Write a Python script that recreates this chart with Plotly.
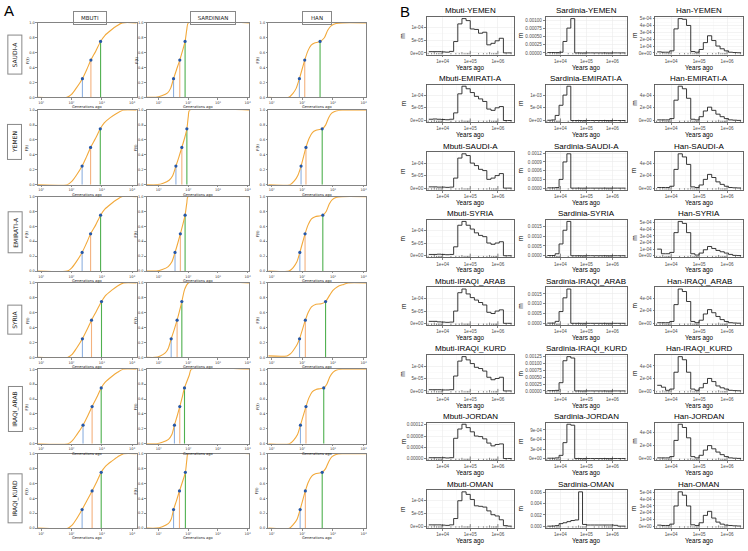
import plotly.graph_objects as go

W, H = 748, 551

# ---------------- Panel A data ----------------
A_ROWS = ["SAUDI-A", "YEMEN", "EMIRATI-A", "SYRIA", "IRAQI_ARAB", "IRAQI_KURD"]
A_COLS = ["MBUTI", "SARDINIAN", "HAN"]
A_XTICK_EXP = [1, 2, 3, 4]
A_XTICK_TEXT = ["10¹", "10²", "10³", "10⁴"]
A_YTICKS = [0.0, 0.2, 0.4, 0.6, 0.8, 1.0]
A_YLABEL = "F(t)"
A_XLABEL = "Generations ago"

MBUTI_F = [0, 0, 0.04, 0.12, 0.25, 0.37, 0.5, 0.62, 0.75, 0.83, 0.9, 0.96, 1.0, 1.0]
MBUTI_LOGT = [
    [0.89, 1.85, 2.00, 2.15, 2.36, 2.50, 2.64, 2.80, 2.96, 3.10, 3.30, 3.50, 3.68, 4.15],
    [0.89, 1.86, 2.00, 2.15, 2.35, 2.49, 2.63, 2.79, 2.95, 3.08, 3.28, 3.50, 3.70, 4.15],
    [0.89, 1.86, 2.00, 2.15, 2.35, 2.49, 2.63, 2.80, 2.96, 3.10, 3.30, 3.50, 3.68, 4.15],
    [0.89, 1.87, 2.02, 2.16, 2.36, 2.51, 2.66, 2.82, 2.99, 3.12, 3.32, 3.52, 3.72, 4.15],
    [0.89, 1.88, 2.02, 2.17, 2.38, 2.53, 2.68, 2.83, 2.98, 3.12, 3.32, 3.52, 3.70, 4.15],
    [0.89, 1.88, 2.02, 2.16, 2.35, 2.51, 2.68, 2.83, 2.98, 3.12, 3.33, 3.53, 3.72, 4.15],
]
MBUTI_Q = [
    [2.36, 2.64, 2.96], [2.35, 2.63, 2.95], [2.35, 2.63, 2.96],
    [2.36, 2.66, 2.99], [2.38, 2.68, 2.98], [2.35, 2.68, 2.98],
]

SARD_F = [0, 0, 0.02, 0.06, 0.12, 0.25, 0.37, 0.5, 0.62, 0.75, 0.92, 1.0, 1.0]
SARD_LOGT = [
    [0.59, 0.90, 1.10, 1.30, 1.40, 1.50, 1.60, 1.71, 1.80, 1.89, 1.95, 2.00, 4.06],
    [0.59, 0.95, 1.15, 1.35, 1.47, 1.58, 1.68, 1.78, 1.87, 1.95, 2.00, 2.04, 4.06],
    [0.59, 0.92, 1.12, 1.32, 1.44, 1.55, 1.64, 1.73, 1.81, 1.89, 1.95, 1.99, 4.06],
    [0.59, 0.88, 1.05, 1.22, 1.32, 1.42, 1.52, 1.62, 1.70, 1.78, 1.88, 2.00, 4.06],
    [0.59, 0.92, 1.12, 1.33, 1.44, 1.53, 1.62, 1.71, 1.79, 1.87, 2.03, 2.10, 4.06],
    [0.59, 0.92, 1.12, 1.32, 1.42, 1.50, 1.60, 1.70, 1.80, 1.90, 1.95, 1.99, 4.06],
]
SARD_Q = [
    [1.50, 1.71, 1.89], [1.58, 1.78, 1.95], [1.55, 1.73, 1.89],
    [1.42, 1.62, 1.78], [1.53, 1.71, 1.87], [1.50, 1.70, 1.90],
]

HAN_F = [0, 0, 0.05, 0.12, 0.25, 0.5, 0.62, 0.70, 0.73, 0.74, 0.75, 0.8, 0.9, 0.96, 0.99, 1.0, 1.0]
HAN_F_SYRIA = [0.02, 0.02, 0.05, 0.12, 0.18, 0.25, 0.5, 0.61, 0.68, 0.715, 0.72, 0.75, 0.84, 0.9, 0.95, 0.98, 1.0, 1.0]
HAN_LOGT = [
    [0.89, 1.56, 1.69, 1.80, 1.905, 2.08, 2.18, 2.29, 2.40, 2.50, 2.58, 2.72, 2.83, 2.94, 3.10, 3.30, 4.08],
    [0.89, 1.60, 1.74, 1.85, 1.96, 2.12, 2.22, 2.33, 2.45, 2.56, 2.65, 2.76, 2.86, 2.96, 3.10, 3.30, 4.08],
    [0.89, 1.57, 1.71, 1.82, 1.92, 2.09, 2.19, 2.30, 2.42, 2.56, 2.67, 2.78, 2.88, 2.98, 3.12, 3.30, 4.08],
    [0.89, 1.50, 1.62, 1.75, 1.84, 1.91, 2.10, 2.20, 2.30, 2.45, 2.62, 2.76, 2.90, 3.00, 3.15, 3.35, 3.50, 4.08],
    [0.89, 1.58, 1.72, 1.84, 1.94, 2.12, 2.22, 2.33, 2.45, 2.58, 2.70, 2.80, 2.90, 3.00, 3.12, 3.30, 4.08],
    [0.89, 1.58, 1.71, 1.83, 1.93, 2.10, 2.20, 2.31, 2.43, 2.56, 2.65, 2.76, 2.87, 2.97, 3.10, 3.30, 4.08],
]
HAN_Q = [
    [1.905, 2.08, 2.58], [1.96, 2.12, 2.65], [1.92, 2.09, 2.67],
    [1.91, 2.10, 2.76], [1.94, 2.12, 2.70], [1.93, 2.10, 2.65],
]

# ---------------- Panel B data ----------------
B_ROWS = ["YEMEN", "EMIRATI-A", "SAUDI-A", "SYRIA", "IRAQI_ARAB", "IRAQI_KURD", "JORDAN", "OMAN"]
B_COLS = ["Mbuti", "Sardinia", "Han"]
B_EDGES_LOG10 = [3.50, 3.65, 3.80, 3.95, 4.10, 4.25, 4.40, 4.55, 4.70, 4.85, 5.00,
                 5.15, 5.30, 5.45, 5.60, 5.75, 5.90, 6.05, 6.20, 6.35, 6.50]
B_XTICKS = [1e4, 1e5, 1e6]
B_XTICKTEXT = ["1e+04", "1e+05", "1e+06"]

MBUTI_YEMEN = [0.05e-4, 0.05e-4, 0.05e-4, 0.04e-4, 0.03e-4, 0.06e-4, 0.45e-4, 1.15e-4, 1.36e-4, 1.28e-4,
               0.95e-4, 0.93e-4, 0.78e-4, 0.82e-4, 0.32e-4, 0.38e-4, 0.48e-4, 0.58e-4, 0, 0]
MBUTI_EMIRATI = [0.05e-4, 0.06e-4, 0.05e-4, 0.04e-4, 0.03e-4, 0.05e-4, 0.30e-4, 1.05e-4, 1.35e-4, 1.25e-4,
                 1.10e-4, 0.95e-4, 0.85e-4, 0.75e-4, 0.45e-4, 0.40e-4, 0.50e-4, 0.55e-4, 0, 0]
MBUTI_SAUDI = [0.05e-4, 0.05e-4, 0.04e-4, 0.04e-4, 0.03e-4, 0.04e-4, 0.40e-4, 1.20e-4, 1.37e-4, 1.30e-4,
               1.00e-4, 0.90e-4, 0.75e-4, 0.70e-4, 0.35e-4, 0.40e-4, 0.50e-4, 0.58e-4, 0, 0]
MBUTI_SYRIA = [0.05e-4, 0.05e-4, 0.06e-4, 0.05e-4, 0.04e-4, 0.05e-4, 0.35e-4, 1.20e-4, 1.35e-4, 1.20e-4,
               1.05e-4, 0.90e-4, 0.80e-4, 0.75e-4, 0.50e-4, 0.45e-4, 0.50e-4, 0.55e-4, 0, 0]
MBUTI_IRAQI_ARAB = [0.08e-4, 0.08e-4, 0.06e-4, 0.05e-4, 0.04e-4, 0.05e-4, 0.50e-4, 1.25e-4, 1.40e-4, 1.20e-4,
                    1.05e-4, 0.95e-4, 0.85e-4, 0.75e-4, 0.45e-4, 0.40e-4, 0.50e-4, 0.55e-4, 0, 0]
MBUTI_IRAQI_KURD = [0.05e-4, 0.05e-4, 0.05e-4, 0.04e-4, 0.04e-4, 0.05e-4, 0.60e-4, 1.20e-4, 1.38e-4, 1.25e-4,
                    1.10e-4, 0.95e-4, 0.90e-4, 0.80e-4, 0.55e-4, 0.45e-4, 0.50e-4, 0.55e-4, 0, 0]
MBUTI_JORDAN = [0.03e-4, 0.03e-4, 0.03e-4, 0.03e-4, 0.02e-4, 0.03e-4, 0.72e-4, 1.05e-4, 1.22e-4, 1.10e-4,
                0.95e-4, 0.80e-4, 0.78e-4, 0.70e-4, 0.55e-4, 0.45e-4, 0.50e-4, 0.52e-4, 0, 0]
MBUTI_OMAN = [0.05e-4, 0.05e-4, 0.05e-4, 0.04e-4, 0.03e-4, 0.05e-4, 0.30e-4, 1.00e-4, 1.35e-4, 1.25e-4,
              1.05e-4, 0.80e-4, 0.78e-4, 0.75e-4, 0.60e-4, 0.45e-4, 0.40e-4, 0.25e-4, 0.02e-4, 0]

SARD_YEMEN = [0.01e-3, 0.01e-3, 0.01e-3, 0.02e-3, 0.35e-3, 0.76e-3, 1.05e-3, 0, 0, 0,
              0, 0, 0, 0, 0, 0, 0, 0, 0, 0]
SARD_EMIRATI = [0.01e-3, 0.02e-3, 0.20e-3, 0.60e-3, 1.00e-3, 1.35e-3, 0, 0, 0, 0,
                0, 0, 0, 0, 0, 0, 0, 0, 0, 0]
SARD_SAUDI = [0.01e-3, 0.01e-3, 0.02e-3, 0.30e-3, 0.90e-3, 1.18e-3, 0, 0, 0, 0,
              0, 0, 0, 0, 0, 0, 0, 0, 0, 0]
SARD_SYRIA = [0.01e-3, 0.01e-3, 0.10e-3, 0.60e-3, 1.30e-3, 1.75e-3, 0, 0, 0, 0,
              0, 0, 0, 0, 0, 0, 0, 0, 0, 0]
SARD_IRAQI_ARAB = [0.01e-3, 0.01e-3, 0.10e-3, 0.60e-3, 1.30e-3, 1.75e-3, 0, 0, 0, 0,
                   0, 0, 0, 0, 0, 0, 0, 0, 0, 0]
SARD_IRAQI_KURD = [0.01e-3, 0.01e-3, 0.02e-3, 0.30e-3, 1.10e-3, 1.25e-3, 1.20e-3, 0, 0, 0,
                   0, 0, 0, 0, 0, 0, 0, 0, 0, 0]
SARD_JORDAN = [0.01e-3, 0.01e-3, 0.02e-3, 0.10e-3, 0.50e-3, 1.08e-3, 1.05e-3, 0, 0, 0,
               0, 0, 0, 0, 0, 0, 0, 0, 0, 0]
SARD_OMAN = [0, 0.02e-3, 0.10e-3, 0.45e-3, 0.60e-3, 0.80e-3, 1.00e-3, 1.10e-3, 6.10e-3, 0.30e-3,
             0.20e-3, 0.20e-3, 0.20e-3, 0.20e-3, 0.20e-3, 0.20e-3, 0.20e-3, 0.15e-3, 0, 0]

HAN_YEMEN = [0.15e-4, 0.10e-4, 0.10e-4, 0.30e-4, 3.50e-4, 5.00e-4, 4.90e-4, 4.00e-4, 0.20e-4, 0.10e-4,
             0.50e-4, 1.50e-4, 2.50e-4, 1.80e-4, 1.00e-4, 0.60e-4, 0.30e-4, 0.10e-4, 0.05e-4, 0.02e-4]
HAN_EMIRATI = [0.10e-4, 0.10e-4, 0.10e-4, 0.30e-4, 3.20e-4, 5.40e-4, 5.00e-4, 3.50e-4, 0.20e-4, 0.10e-4,
               0.60e-4, 1.50e-4, 2.10e-4, 1.60e-4, 1.00e-4, 0.60e-4, 0.30e-4, 0.10e-4, 0.05e-4, 0.02e-4]
HAN_SAUDI = [0.10e-4, 0.10e-4, 0.10e-4, 0.30e-4, 3.00e-4, 5.50e-4, 5.00e-4, 3.80e-4, 0.20e-4, 0.10e-4,
             0.50e-4, 1.40e-4, 2.20e-4, 1.70e-4, 1.00e-4, 0.60e-4, 0.30e-4, 0.10e-4, 0.05e-4, 0.02e-4]
HAN_SYRIA = [1.00e-4, 0.30e-4, 0.30e-4, 0.50e-4, 3.50e-4, 5.20e-4, 4.90e-4, 3.50e-4, 0.30e-4, 0.10e-4,
             0.40e-4, 0.90e-4, 1.40e-4, 1.10e-4, 0.80e-4, 0.60e-4, 0.40e-4, 0.20e-4, 0.05e-4, 0.02e-4]
HAN_IRAQI_ARAB = [0.10e-4, 0.10e-4, 0.10e-4, 0.30e-4, 3.00e-4, 5.50e-4, 5.10e-4, 3.50e-4, 0.30e-4, 0.10e-4,
                  0.50e-4, 1.50e-4, 2.20e-4, 1.70e-4, 1.10e-4, 0.60e-4, 0.30e-4, 0.10e-4, 0.05e-4, 0.02e-4]
HAN_IRAQI_KURD = [0.90e-4, 0.60e-4, 0.10e-4, 0.30e-4, 3.00e-4, 5.50e-4, 5.00e-4, 3.00e-4, 0.30e-4, 0.10e-4,
                  0.50e-4, 1.20e-4, 2.00e-4, 1.50e-4, 0.80e-4, 0.50e-4, 0.30e-4, 0.10e-4, 0.05e-4, 0.02e-4]
HAN_JORDAN = [0.10e-4, 0.10e-4, 0.10e-4, 0.30e-4, 2.80e-4, 5.30e-4, 4.80e-4, 3.20e-4, 0.30e-4, 0.10e-4,
              0.50e-4, 1.30e-4, 2.00e-4, 1.50e-4, 1.00e-4, 0.60e-4, 0.30e-4, 0.10e-4, 0.05e-4, 0.02e-4]
HAN_OMAN = [0.15e-4, 0.10e-4, 0.10e-4, 0.30e-4, 3.00e-4, 5.10e-4, 4.60e-4, 3.00e-4, 0.20e-4, 0.10e-4,
            0.50e-4, 1.60e-4, 2.20e-4, 1.20e-4, 0.60e-4, 0.30e-4, 0.15e-4, 0.10e-4, 0.05e-4, 0.02e-4]

MBUTI_B = [MBUTI_YEMEN, MBUTI_EMIRATI, MBUTI_SAUDI, MBUTI_SYRIA, MBUTI_IRAQI_ARAB, MBUTI_IRAQI_KURD, MBUTI_JORDAN, MBUTI_OMAN]
SARD_B = [SARD_YEMEN, SARD_EMIRATI, SARD_SAUDI, SARD_SYRIA, SARD_IRAQI_ARAB, SARD_IRAQI_KURD, SARD_JORDAN, SARD_OMAN]
HAN_B = [HAN_YEMEN, HAN_EMIRATI, HAN_SAUDI, HAN_SYRIA, HAN_IRAQI_ARAB, HAN_IRAQI_KURD, HAN_JORDAN, HAN_OMAN]

TICKS_M = ([0, 5e-5, 1e-4], ["0e+00", "5e-05", "1e-04"])
TICKS_M_JORDAN = ([0, 4e-5, 8e-5, 1.2e-4], ["0.00000", "0.00004", "0.00008", "0.00012"])
MBUTI_YTICKS = [TICKS_M, TICKS_M, TICKS_M, TICKS_M, TICKS_M, TICKS_M, TICKS_M_JORDAN, TICKS_M]
SARD_YTICKS = [
    ([0, 2.5e-4, 5e-4, 7.5e-4, 1e-3], ["0.00000", "0.00025", "0.00050", "0.00075", "0.00100"]),
    ([0, 5e-4, 1e-3], ["0e+00", "5e-04", "1e-03"]),
    ([0, 3e-4, 6e-4, 9e-4, 1.2e-3], ["0.0000", "0.0003", "0.0006", "0.0009", "0.0012"]),
    ([0, 5e-4, 1e-3, 1.5e-3], ["0.0000", "0.0005", "0.0010", "0.0015"]),
    ([0, 5e-4, 1e-3, 1.5e-3], ["0.0000", "0.0005", "0.0010", "0.0015"]),
    ([0, 2.5e-4, 5e-4, 7.5e-4, 1e-3, 1.25e-3], ["0.00000", "0.00025", "0.00050", "0.00075", "0.00100", "0.00125"]),
    ([0, 3e-4, 6e-4, 9e-4], ["0e+00", "3e-04", "6e-04", "9e-04"]),
    ([0, 2e-3, 4e-3, 6e-3], ["0.000", "0.002", "0.004", "0.006"]),
]
TICKS_H5 = ([0, 1e-4, 2e-4, 3e-4, 4e-4, 5e-4], ["0e+00", "1e-04", "2e-04", "3e-04", "4e-04", "5e-04"])
TICKS_H2 = ([0, 2e-4, 4e-4], ["0e+00", "2e-04", "4e-04"])
HAN_YTICKS = [TICKS_H5, TICKS_H2, TICKS_H2, TICKS_H5, TICKS_H2, TICKS_H2, TICKS_H2, TICKS_H5]

# ---------------- figure building ----------------
fig = go.Figure()
layout = {}
annotations = []
counter = [0]


def new_axes():
    counter[0] += 1
    n = counter[0]
    s = "" if n == 1 else str(n)
    return "x" + s, "y" + s, "xaxis" + s, "yaxis" + s


def dom_x(a, b):
    return [a / W, b / W]


def dom_y(top, bottom):
    return [1 - bottom / H, 1 - top / H]


def ann(text, x, y, size, color="black", angle=0, family="Liberation Sans", **kw):
    d = dict(text=text, x=x / W, y=1 - y / H, xref="paper", yref="paper", showarrow=False,
             font=dict(size=size, color=color, family=family), textangle=angle,
             xanchor="center", yanchor="middle")
    d.update(kw)
    annotations.append(d)


# ---- Panel A ----
A_COL_X = [(38, 137), (147, 250), (269, 367)]
A_ROW_TOP = [21, 109, 196, 283, 370, 455]
A_PANEL_H = 75
A_XRANGE = [(0.89, 4.15), (0.59, 4.06), (0.89, 4.08)]
A_T = [MBUTI_LOGT, SARD_LOGT, HAN_LOGT]
A_F = [[MBUTI_F] * 6, [SARD_F] * 6, [HAN_F, HAN_F, HAN_F, HAN_F_SYRIA, HAN_F, HAN_F]]
A_Q = [MBUTI_Q, SARD_Q, HAN_Q]
Q_LEVELS = [0.25, 0.5, 0.75]
Q_COLORS = ["#8fb1e0", "#f3b27e", "#4fb04f"]
CURVE_COLOR = "#f2a93b"
A_FONT = "DejaVu Sans"

for ci in range(3):
    x0, x1 = A_COL_X[ci]
    for ri in range(6):
        xr, yr, xk, yk = new_axes()
        top = A_ROW_TOP[ri]
        bot = top + A_PANEL_H
        layout[xk] = dict(domain=dom_x(x0, x1), anchor=yr, type="log", range=list(A_XRANGE[ci]),
                          tickvals=[10 ** e for e in A_XTICK_EXP], ticktext=A_XTICK_TEXT,
                          tickfont=dict(size=3.6, color="#333", family=A_FONT),
                          ticks="outside", ticklen=1.5, tickwidth=0.6, tickcolor="#444",
                          showline=True, mirror=True, linecolor="#777", linewidth=0.9,
                          showgrid=False, zeroline=False, fixedrange=True)
        layout[yk] = dict(domain=dom_y(top, bot), anchor=xr, range=[0, 1],
                          tickvals=A_YTICKS, ticktext=["%.1f" % v for v in A_YTICKS],
                          tickfont=dict(size=3.5, color="#333", family=A_FONT),
                          ticks="outside", ticklen=1.5, tickwidth=0.6, tickcolor="#444",
                          showline=True, mirror=True, linecolor="#777", linewidth=0.9,
                          showgrid=False, zeroline=False, fixedrange=True)
        ts = A_T[ci][ri]
        fs = A_F[ci][ri]
        qs = A_Q[ci][ri]
        for qi in range(3):
            fig.add_trace(go.Scatter(x=[10 ** qs[qi], 10 ** qs[qi]], y=[0, Q_LEVELS[qi]], mode="lines",
                                     line=dict(color=Q_COLORS[qi], width=1.1), xaxis=xr, yaxis=yr,
                                     showlegend=False, hoverinfo="skip"))
        fig.add_trace(go.Scatter(x=[10 ** t for t in ts], y=fs, mode="lines",
                                 line=dict(color=CURVE_COLOR, width=1.1, shape="spline", smoothing=0.7),
                                 xaxis=xr, yaxis=yr, showlegend=False, cliponaxis=False, hoverinfo="skip"))
        fig.add_trace(go.Scatter(x=[10 ** q for q in qs], y=Q_LEVELS, mode="markers",
                                 marker=dict(color="#2557a7", size=3.2), xaxis=xr, yaxis=yr,
                                 showlegend=False, cliponaxis=False, hoverinfo="skip"))
        ann(A_XLABEL, (x0 + x1) / 2, bot + 10, 3.6, "#222", family=A_FONT)
        ann(A_YLABEL, x0 - 11, (top + bot) / 2, 3.8, "#222", angle=-90, family=A_FONT)

# column headers
A_HEAD_X = [90, 214, 318]
A_HEAD_W = [28, 40, 24]
for ci, name in enumerate(A_COLS):
    ann(name, A_HEAD_X[ci], 16, 5.5, "#222", family=A_FONT, bordercolor="#888", borderwidth=1,
        borderpad=2, width=A_HEAD_W[ci], height=8)
A_ROWLAB_Y = [53, 141, 232, 320, 410, 500]
A_ROWLAB_LEN = [34, 30, 36, 24, 40, 44]
for ri, name in enumerate(A_ROWS):
    ann(name, 15, A_ROWLAB_Y[ri], 6, "#222", angle=-90, family=A_FONT, bordercolor="#888",
        borderwidth=1, borderpad=2, width=A_ROWLAB_LEN[ri], height=9)

ann("A", 9, 9, 15, "black", family="Liberation Sans")
ann("B", 406, 10, 15, "black", family="Liberation Sans")

# ---- Panel B ----
B_COL_X = [(428, 515), (547, 629), (657, 745)]
B_YTITLE_X = [404, 522, 636]
B_TOP0 = 15
B_PITCH = 68.1
B_PANEL_H = 38
B_XRANGE = [3.43, 6.57]
B_DATA = [MBUTI_B, SARD_B, HAN_B]
B_TICKS = [MBUTI_YTICKS, SARD_YTICKS, HAN_YTICKS]
B_FONT = "Liberation Sans"
GRID = "#ebebeb"

logtick_pos = []
for e in [3, 4, 5, 6]:
    for k in range(1, 10):
        logtick_pos.append((k * 10 ** e, k))

for ci in range(3):
    x0, x1 = B_COL_X[ci]
    for ri in range(8):
        xr, yr, xk, yk = new_axes()
        top = B_TOP0 + B_PITCH * ri
        bot = top + B_PANEL_H
        vals = B_DATA[ci][ri]
        vmax = max(vals)
        yrng = [-0.05 * vmax, 1.05 * vmax]
        tv, tt = B_TICKS[ci][ri]
        minor_y = [(tv[i] + tv[i + 1]) / 2 for i in range(len(tv) - 1)]
        layout[xk] = dict(domain=dom_x(x0, x1), anchor=yr, type="log", range=B_XRANGE,
                          tickvals=B_XTICKS, ticktext=B_XTICKTEXT,
                          tickfont=dict(size=4.6, color="#4d4d4d", family=B_FONT),
                          ticks="outside", ticklen=1.8, tickwidth=0.6, tickcolor="#333",
                          showline=True, mirror=True, linecolor="#555", linewidth=0.9,
                          showgrid=True, gridcolor=GRID, gridwidth=0.6, zeroline=False,
                          minor=dict(tickvals=[10 ** 3.5, 10 ** 4.5, 10 ** 5.5, 10 ** 6.5],
                                     showgrid=True, gridcolor="#f3f3f3", gridwidth=0.4),
                          fixedrange=True)
        layout[yk] = dict(domain=dom_y(top, bot), anchor=xr, range=yrng,
                          tickvals=tv, ticktext=tt,
                          tickfont=dict(size=4.6, color="#4d4d4d", family=B_FONT),
                          ticks="outside", ticklen=1.8, tickwidth=0.6, tickcolor="#333",
                          showline=True, mirror=True, linecolor="#555", linewidth=0.9,
                          showgrid=True, gridcolor=GRID, gridwidth=0.6, zeroline=False,
                          minor=dict(tickvals=minor_y, showgrid=True, gridcolor="#f3f3f3", gridwidth=0.4),
                          fixedrange=True)
        # log ticks along bottom (annotation_logticks)
        lx, ly = [], []
        span = yrng[1] - yrng[0]
        for xv, k in logtick_pos:
            frac = 0.10 if k == 1 else (0.065 if k == 5 else 0.04)
            lx += [xv, xv, None]
            ly += [yrng[0], yrng[0] + frac * span, None]
        fig.add_trace(go.Scatter(x=lx, y=ly, mode="lines", line=dict(color="#333", width=0.6),
                                 xaxis=xr, yaxis=yr, showlegend=False, hoverinfo="skip"))
        # step line
        xs = [10 ** e for e in B_EDGES_LOG10]
        ys = list(vals) + [vals[-1]]
        fig.add_trace(go.Scatter(x=xs, y=ys, mode="lines", line=dict(color="#222", width=0.9, shape="hv"),
                                 xaxis=xr, yaxis=yr, showlegend=False, hoverinfo="skip"))
        ann("%s-%s" % (B_COLS[ci], B_ROWS[ri]), (x0 + x1) / 2, top - 6, 8, "black", family=B_FONT)
        ann("Years ago", (x0 + x1) / 2, bot + 13, 6.3, "black", family=B_FONT)
        ann("m", B_YTITLE_X[ci], (top + bot) / 2, 6.5, "black", angle=-90, family=B_FONT)

layout["annotations"] = annotations
fig.update_layout(width=W, height=H, margin=dict(l=0, r=0, t=0, b=0),
                  paper_bgcolor="white", plot_bgcolor="white", showlegend=False, **layout)
fig.write_html("out.html", config={"displayModeBar": False, "staticPlot": True},
               post_script="document.body.style.margin='0px';document.body.style.overflow='hidden';")
